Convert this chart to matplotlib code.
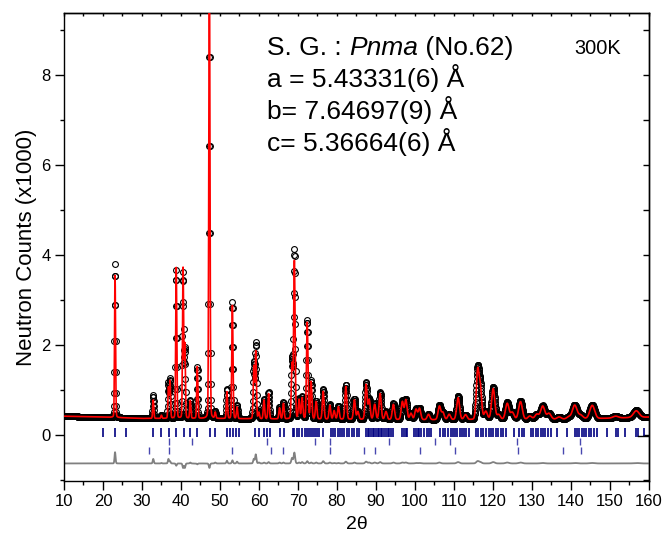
import numpy as np
import matplotlib
matplotlib.use("Agg")
import matplotlib.pyplot as plt
from matplotlib.ticker import MultipleLocator, NullFormatter

plt.rcParams['font.family'] = ['Liberation Sans', 'DejaVu Sans']

# background (x1000 counts)
bg_x = [10, 20, 30, 40, 60, 80, 100, 120, 140, 160]
bg_y = [0.42, 0.40, 0.37, 0.37, 0.36, 0.35, 0.34, 0.34, 0.35, 0.40]

# peaks: position, observed top, calculated top, fwhm
peak_pos = [23.1, 32.9, 35.0, 36.8, 37.2, 38.8, 40.55, 41.0, 42.4, 44.2, 47.3, 48.8,
            51.8, 53.2, 54.4, 58.7, 59.2, 60.0, 61.3, 62.5, 65.3, 66.3, 68.5, 69.1,
            70.3, 71.1, 72.4, 73.4, 74.7, 76.5, 78.2, 79.3, 80.4, 82.3, 84.5, 85.4,
            87.5, 88.3, 89.7, 91.1, 92.6, 94.5, 96.8, 97.7, 99.0, 100.3, 101.2, 103.5,
            106.3, 107.2, 108.8, 111.1, 113.0, 116.1, 116.8, 118.2, 120.1, 121.5, 123.7,
            125.0, 127.1, 129.5, 131.3, 132.8, 134.4, 137.0, 139.5, 141.0, 142.5, 145.5,
            151.5, 156.8]
peak_obs = [3.80, 0.88, 0.45, 1.15, 1.25, 3.67, 3.60, 1.90, 0.78, 1.50, 10.5, 0.52,
            1.02, 2.95, 0.66, 1.62, 2.05, 0.52, 0.80, 0.95, 0.62, 0.72, 1.68, 4.10,
            0.80, 0.85, 2.55, 1.20, 0.76, 1.02, 0.68, 0.55, 0.64, 1.12, 0.80, 0.52,
            1.16, 0.80, 0.70, 0.95, 0.52, 0.70, 0.76, 0.80, 0.48, 0.58, 0.60, 0.46,
            0.66, 0.50, 0.46, 0.86, 0.45, 1.45, 1.05, 0.52, 1.06, 0.45, 0.72,
            0.50, 0.76, 0.42, 0.46, 0.65, 0.48, 0.40, 0.40, 0.67, 0.44, 0.67,
            0.42, 0.55]
peak_calc = [3.55, 0.78, 0.44, 1.05, 1.20, 3.72, 3.70, 2.00, 0.76, 1.52, 10.6, 0.50,
             0.96, 2.88, 0.62, 1.52, 1.85, 0.50, 0.78, 0.92, 0.60, 0.70, 1.56, 3.86,
             0.78, 0.82, 2.50, 1.18, 0.74, 0.97, 0.66, 0.54, 0.63, 1.08, 0.78, 0.52,
             1.12, 0.78, 0.68, 0.92, 0.52, 0.68, 0.74, 0.78, 0.48, 0.57, 0.59, 0.46,
             0.64, 0.50, 0.46, 0.83, 0.45, 1.40, 1.02, 0.52, 1.03, 0.45, 0.70,
             0.50, 0.74, 0.42, 0.46, 0.64, 0.48, 0.40, 0.40, 0.66, 0.44, 0.66,
             0.42, 0.54]
peak_fwhm = [0.30, 0.32, 0.32, 0.32, 0.32, 0.32, 0.33, 0.33, 0.34, 0.34, 0.35, 0.35,
             0.36, 0.36, 0.37, 0.38, 0.38, 0.38, 0.40, 0.40, 0.42, 0.42, 0.44, 0.44,
             0.45, 0.45, 0.46, 0.46, 0.48, 0.50, 0.50, 0.52, 0.52, 0.55, 0.56, 0.57,
             0.60, 0.60, 0.62, 0.63, 0.65, 0.67, 0.70, 0.70, 0.72, 0.73, 0.74, 0.77,
             0.80, 0.80, 0.83, 0.86, 0.88, 0.80, 0.80, 0.95, 0.95, 1.00, 1.05,
             1.05, 1.10, 1.15, 1.20, 1.20, 1.25, 1.30, 1.35, 1.35, 1.40, 1.45,
             1.60, 1.70]

# Bragg reflection markers
refl_1 = [20.1, 23.2, 26.0, 32.9, 35.0, 37.0, 38.8, 40.7, 42.4, 44.1, 47.4, 48.8, 51.8,
          52.5, 53.3, 54.2, 55.0, 58.9, 59.9, 61.2, 62.0, 62.9, 65.3, 66.4, 68.7, 69.1,
          69.7, 70.4, 71.1, 71.7, 72.3, 72.8, 73.4, 73.8, 74.3, 74.8, 75.5, 76.4, 78.5,
          79.1, 79.6, 80.2, 80.8, 81.3, 81.9, 82.5, 83.2, 83.9, 84.5, 85.2, 85.8, 87.5,
          87.9, 88.3, 88.7, 89.2, 89.6, 90.0, 90.5, 90.9, 91.3, 91.7, 92.2, 92.6, 93.0,
          93.4, 93.9, 94.3, 96.7, 97.1, 97.7, 98.1, 99.8, 100.3, 100.7, 101.1, 101.5,
          102.4, 103.0, 103.7, 104.1, 106.4, 107.1, 107.7, 108.6, 109.2, 109.8, 110.3,
          110.9, 111.5, 112.0, 112.6, 113.2, 113.9, 115.6, 116.3, 116.9, 117.5, 118.2,
          118.9, 119.5, 120.1, 120.7, 121.4, 122.0, 122.6, 123.3, 125.4, 126.7, 127.4,
          128.0, 129.7, 130.3, 131.0, 131.6, 132.3, 132.9, 133.5, 134.1, 134.8, 136.5,
          139.1, 141.1, 141.6, 142.2, 142.9, 143.4, 143.9, 144.8, 145.3, 145.9, 146.8,
          149.3, 151.5, 152.1, 154.0, 156.7, 157.3, 158.7]
refl_2 = [37.0, 42.9, 62.1, 74.4, 78.2, 93.5, 105.1, 109.0, 126.3, 142.3]
refl_3 = [31.8, 37.0, 53.1, 63.2, 66.3, 78.3, 86.9, 89.8, 101.3, 110.2, 126.5, 138.1, 142.6]

diff_offset = -0.63


def profile(x, tops):
    bg = np.interp(x, bg_x, bg_y)
    y = bg.copy()
    for p, t, w in zip(peak_pos, tops, peak_fwhm):
        h = t - np.interp(p, bg_x, bg_y)
        d = (x - p) / w
        y += h * (0.9 * np.exp(-4 * np.log(2) * d ** 2) + 0.1 / (1 + 4 * d ** 2))
    return y


tt = np.arange(10, 160.001, 0.05)
y_obs = profile(tt, peak_obs)
y_calc = profile(tt, peak_calc)

fig = plt.figure(figsize=(6.63, 5.37), dpi=100)
ax = fig.add_axes([0.0965, 0.1043, 0.8820, 0.8715])

ax.plot(tt, y_obs, 'o', ms=4.2, mfc='none', mec='black', mew=0.8, zorder=2)
ax.plot(tt, y_calc, '-', color='red', lw=1.2, zorder=3)
ax.plot(tt, y_obs - y_calc + diff_offset, '-', color='#808080', lw=1.3, zorder=2)

ax.vlines(refl_1, -0.04, 0.16, color='#000080', lw=1.2)
ax.vlines(refl_2, -0.22, -0.06, color='#4848b0', lw=1.0)
ax.vlines(refl_3, -0.43, -0.27, color='#4848b0', lw=1.0)
ax.plot([157.2, 160], [-0.03, -0.03], color='black', lw=1.0)

ax.set_xlim(10, 160)
ax.set_ylim(-1.02, 9.38)

ax.xaxis.set_major_locator(MultipleLocator(10))
ax.xaxis.set_minor_locator(MultipleLocator(5))
ax.yaxis.set_major_locator(MultipleLocator(2))
ax.yaxis.set_minor_locator(MultipleLocator(1))
ax.tick_params(which='both', direction='out', top=False, right=False, labelsize=12,
               colors='black')
ax.tick_params(which='major', length=6.5, width=1.0, pad=3)
ax.tick_params(which='minor', length=3, width=1.0)

sec_y = ax.secondary_yaxis('right')
sec_y.yaxis.set_major_locator(MultipleLocator(1))
sec_y.yaxis.set_major_formatter(NullFormatter())
sec_y.tick_params(direction='in', length=4.5, width=1.0)

sec_x = ax.secondary_xaxis('top')
sec_x.xaxis.set_major_locator(MultipleLocator(5))
sec_x.xaxis.set_major_formatter(NullFormatter())
sec_x.tick_params(direction='in', length=2, width=1.0)

for s in list(ax.spines.values()) + [sec_y.spines['right'], sec_x.spines['top']]:
    s.set_linewidth(1.0)

ax.set_xlabel('2θ', fontsize=14, labelpad=5)
ax.set_ylabel('Neutron Counts (x1000)', fontsize=16, labelpad=3)

fs = 19
t0 = ax.text(62, 8.44, 'S. G. : ', fontsize=fs, va='baseline')
ax.text(62, 7.73, 'a = 5.43331(6) Å', fontsize=fs, va='baseline')
ax.text(62, 7.02, 'b= 7.64697(9) Å', fontsize=fs, va='baseline')
ax.text(62, 6.31, 'c= 5.36664(6) Å', fontsize=fs, va='baseline')
ax.text(140.8, 8.47, '300K', fontsize=14.4, va='baseline')

# italic space group right after the label
fig.canvas.draw()
bb = t0.get_window_extent()
x_end = ax.transData.inverted().transform((bb.x1, bb.y0))[0]
t1 = ax.text(x_end, 8.44, 'Pnma', fontsize=fs, style='italic', va='baseline')
fig.canvas.draw()
bb1 = t1.get_window_extent()
x_end2 = ax.transData.inverted().transform((bb1.x1, bb1.y0))[0]
ax.text(x_end2, 8.44, ' (No.62)', fontsize=fs, va='baseline')

fig.savefig('out.png', dpi=100)
